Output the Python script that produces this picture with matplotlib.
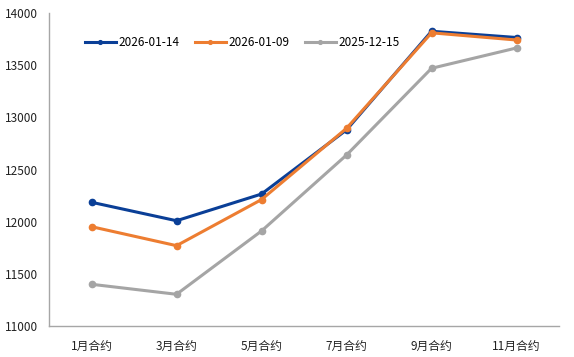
import matplotlib
matplotlib.use("Agg")
import matplotlib.pyplot as plt

plt.rcParams['font.family'] = ['Noto Sans CJK SC', 'DejaVu Sans']

contracts = ['1月合约', '3月合约', '5月合约', '7月合约', '9月合约', '11月合约']
s_0114 = [12186, 12009, 12265, 12880, 13825, 13765]
s_0109 = [11952, 11770, 12212, 12895, 13810, 13741]
s_1215 = [11400, 11304, 11911, 12639, 13470, 13665]

series = [
    ('2026-01-14', s_0114, '#0A3F97'),
    ('2026-01-09', s_0109, '#ED7D31'),
    ('2025-12-15', s_1215, '#A5A5A5'),
]

fig = plt.figure(figsize=(5.74, 3.57), dpi=100)
ax = fig.add_axes([0.0854, 0.0868, 0.8886, 0.8768])

x = range(len(contracts))
for name, vals, col in series:
    ax.plot(x, vals, color=col, lw=2.2, marker='o', markersize=4.5, label=name)

ax.set_xlim(-0.5, len(contracts) - 0.5)
ax.set_ylim(11000, 14000)
ax.set_yticks(range(11000, 14001, 500))
ax.set_xticks(list(x))
ax.set_xticklabels(contracts)
ax.tick_params(length=0, labelsize=8.5, colors='#222222')
ax.tick_params(axis='x', pad=10)
ax.tick_params(axis='y', pad=8)

for side in ['top', 'right']:
    ax.spines[side].set_visible(False)
for side in ['left', 'bottom']:
    ax.spines[side].set_color('#A6A6A6')
    ax.spines[side].set_linewidth(1.0)

ax.legend(loc='upper left', bbox_to_anchor=(0.05, 0.96), ncol=3, frameon=False,
          fontsize=8.5, handlelength=2.6, handletextpad=0.2, columnspacing=1.35,
          markerscale=0.6)

fig.savefig('out.png', dpi=100)
